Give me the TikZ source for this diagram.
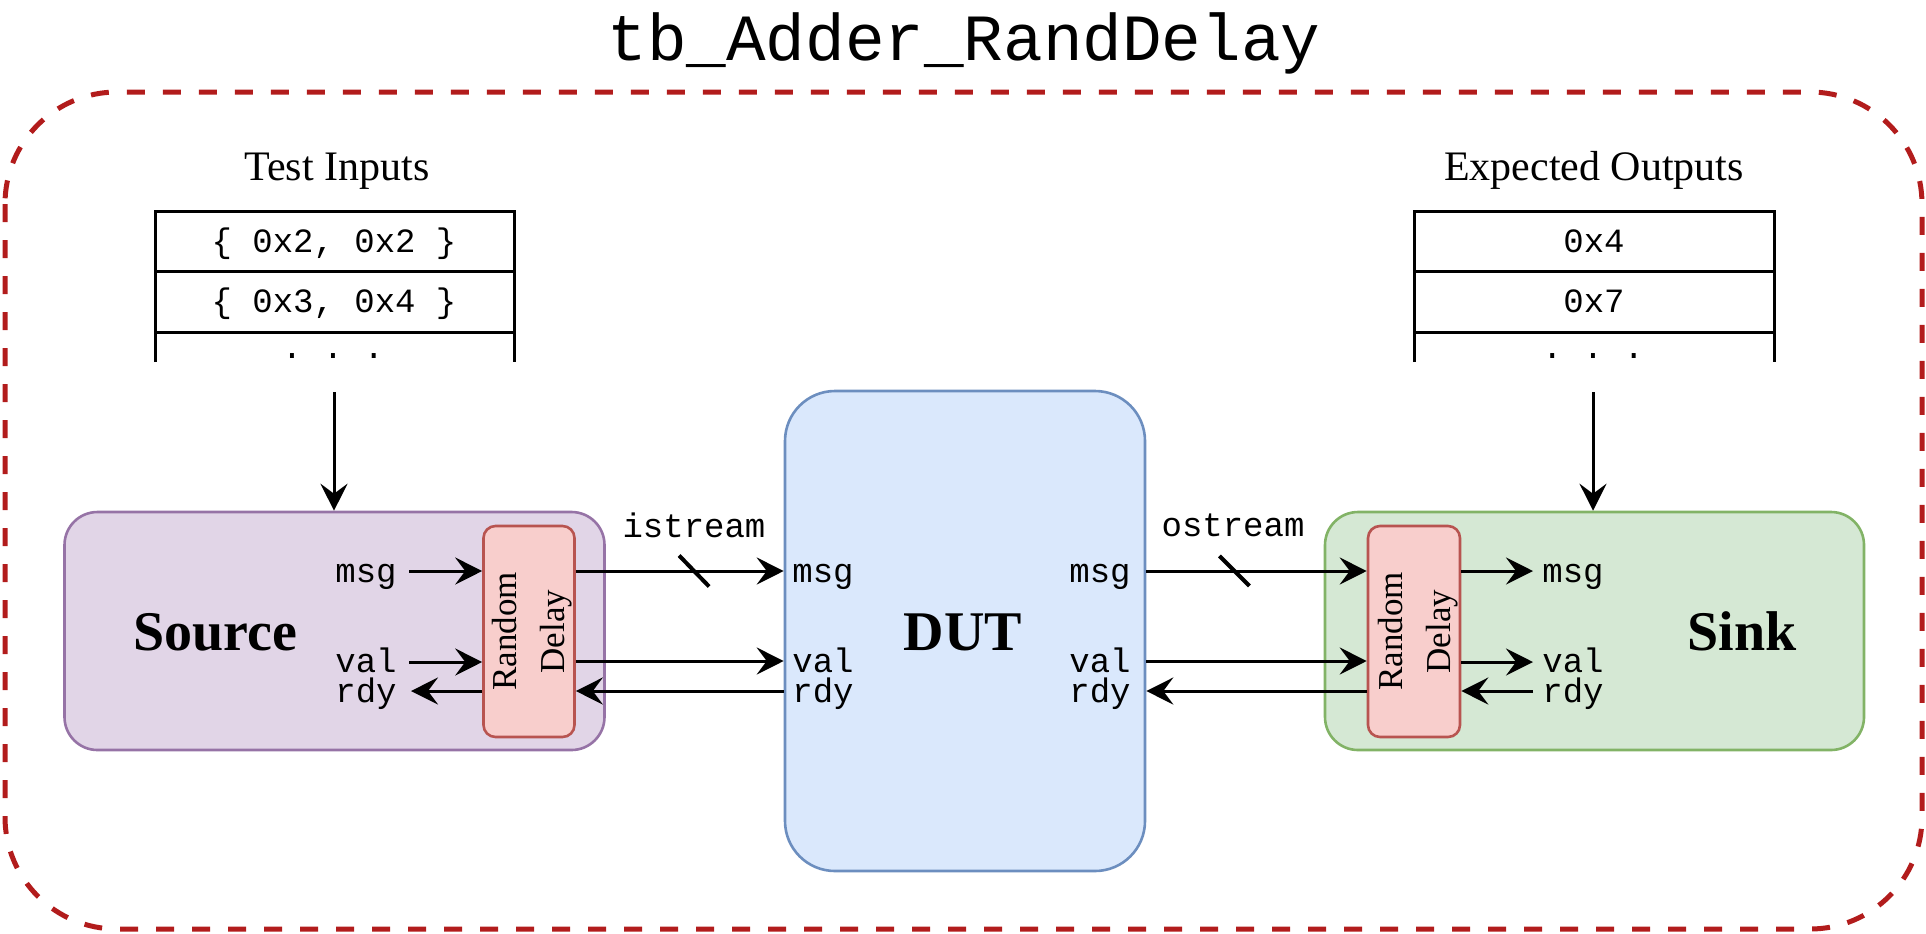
\documentclass[tikz,border=0pt]{standalone}
\usepackage{fontspec}
\setmainfont{Liberation Serif}
\setmonofont{Liberation Mono}
\usetikzlibrary{arrows.meta}
\definecolor{framered}{RGB}{178,28,28}
\definecolor{srcfill}{HTML}{E1D5E7}
\definecolor{srcdraw}{HTML}{9673A6}
\definecolor{rdfill}{HTML}{F8CECC}
\definecolor{rddraw}{HTML}{B85450}
\definecolor{dutfill}{HTML}{DAE8FC}
\definecolor{dutdraw}{HTML}{6C8EBF}
\definecolor{snkfill}{HTML}{D5E8D4}
\definecolor{snkdraw}{HTML}{82B366}
\begin{document}
\begin{tikzpicture}[x=0.5pt,y=-0.5pt,
  box/.style={draw, line width=1.3pt, inner sep=0pt, rounded corners=16.5pt, minimum width=270pt, minimum height=119pt},
  rdbox/.style={draw=rddraw, fill=rdfill, line width=1.3pt, inner sep=0pt, rounded corners=6pt, minimum width=45.5pt, minimum height=105.5pt},
  rdtext/.style={rotate=90, align=center, font=\fontsize{17.5pt}{24pt}\selectfont, inner sep=0pt},
  big/.style={font=\fontsize{28pt}{32pt}\selectfont\bfseries, inner sep=0pt, anchor=base},
  port/.style={font=\fontsize{17pt}{20pt}\selectfont\ttfamily, inner sep=0pt},
  cell/.style={font=\fontsize{17pt}{20pt}\selectfont\ttfamily, inner sep=0pt, anchor=base},
  head/.style={font=\fontsize{21pt}{24pt}\selectfont, inner sep=0pt, anchor=base},
  arr/.style={line width=1.5pt, -{Stealth[length=13.5pt,width=13.5pt,inset=5pt]}},
  tbl/.style={line width=1.5pt},
  slash/.style={line width=2pt}
]
\useasboundingbox (0,0) rectangle (1926,933);

% outer frame
\draw[framered, line width=2.5pt, dash pattern=on 9pt off 9pt, rounded corners=56pt] (5,92) rectangle (1922,929);

\node[font=\fontsize{33pt}{36pt}\selectfont\ttfamily, inner sep=0pt, anchor=base] (title) at (964,60) {tb\_Adder\_RandDelay};

% test inputs table
\node[head] (inlbl) at (337,180) {Test Inputs};
\draw[tbl] (155,362) -- (155,211) -- (514,211) -- (514,362);
\draw[tbl] (155,271) -- (514,271);
\draw[tbl] (155,332) -- (514,332);
\node[cell] (in1) at (334,252) {\{ 0x2, 0x2 \}};
\node[cell] (in2) at (334,312) {\{ 0x3, 0x4 \}};
\node[cell] (in3) at (333,358) {. . .};

% expected outputs table
\node[head] (outlbl) at (1594,180) {Expected Outputs};
\draw[tbl] (1414,362) -- (1414,211) -- (1774,211) -- (1774,362);
\draw[tbl] (1414,271) -- (1774,271);
\draw[tbl] (1414,332) -- (1774,332);
\node[cell] (out1) at (1594,252) {0x4};
\node[cell] (out2) at (1594,312) {0x7};
\node[cell] (out3) at (1593,358) {. . .};

% blocks
\node[box, draw=srcdraw, fill=srcfill] (src) at (334.5,631) {};
\node[rdbox] (srd) at (529,631.5) {};
\node[rdtext] (srdt) at ([xshift=1.5pt]srd.center) {Random\\Delay};
\node[big] (srct) at (215,650) {Source};

\node[box, draw=dutdraw, fill=dutfill, rounded corners=25pt, minimum width=180pt, minimum height=240pt] (dut) at (965,631) {};
\node[big] (dutt) at (963,650) {DUT};

\node[box, draw=snkdraw, fill=snkfill, minimum width=269.5pt] (snk) at (1594.5,631) {};
\node[rdbox, minimum width=46pt] (krd) at (1414,631.5) {};
\node[rdtext] (krdt) at ([xshift=2pt]krd.center) {Random\\Delay};
\node[big] (snkt) at (1742,650) {Sink};

% table arrows
\coordinate (tin) at (334,392);
\draw[arr] (tin) -- (tin |- src.north);
\coordinate (tout) at (1593,392);
\draw[arr] (tout) -- (tout |- snk.north);

% rows
\coordinate (ym) at (0,571);
\coordinate (yv) at (0,661);
\coordinate (yr) at (0,691);

% source internal
\coordinate (smsg) at (409,571);
\coordinate (sval) at (409,662);
\coordinate (srdy) at (411,691);
\draw[arr] (smsg) -- (srd.west |- smsg);
\draw[arr] (sval) -- (srd.west |- sval);
\draw[arr] (srd.west |- srdy) -- (srdy);
\node[port, anchor=base east] (sml) at (397,582) {msg};
\node[port, anchor=base east] (svl) at (397,672) {val};
\node[port, anchor=base east] (srl) at (397,702) {rdy};

% source -> DUT
\draw[arr] (srd.east |- ym) -- coordinate[pos=0.569] (islash) (dut.west |- ym);
\draw[slash] (islash) ++(-15,-15.5) -- ++(30,31);
\node[port, anchor=base] (isl) at (694,537) {istream};
\draw[arr] (srd.east |- yv) -- (dut.west |- yv);
\draw[arr] (dut.west |- yr) -- (srd.east |- yr);

% DUT ports
\node[port, anchor=base west] (dml) at (792,582) {msg};
\node[port, anchor=base west] (dvl) at (792,672) {val};
\node[port, anchor=base west] (drl) at (792,702) {rdy};
\node[port, anchor=base east] (dmr) at (1131,582) {msg};
\node[port, anchor=base east] (dvr) at (1131,672) {val};
\node[port, anchor=base east] (drr) at (1131,702) {rdy};

% DUT -> sink
\draw[arr] (dut.east |- ym) -- coordinate[pos=0.40] (oslash) (krd.west |- ym);
\draw[slash] (oslash) ++(-15,-15) -- ++(30,30);
\node[port, anchor=base] (osl) at (1233,536) {ostream};
\draw[arr] (dut.east |- yv) -- (krd.west |- yv);
\draw[arr] (krd.west |- yr) -- (dut.east |- yr);

% sink internal
\coordinate (kmsg) at (1533,571);
\coordinate (kval) at (1533,662);
\coordinate (krdy) at (1533,691);
\draw[arr] (krd.east |- kmsg) -- (kmsg);
\draw[arr] (krd.east |- kval) -- (kval);
\draw[arr] (krdy) -- (krd.east |- krdy);
\node[port, anchor=base west] (kml) at (1542,582) {msg};
\node[port, anchor=base west] (kvl) at (1542,672) {val};
\node[port, anchor=base west] (krl) at (1542,702) {rdy};
\end{tikzpicture}
\end{document}
